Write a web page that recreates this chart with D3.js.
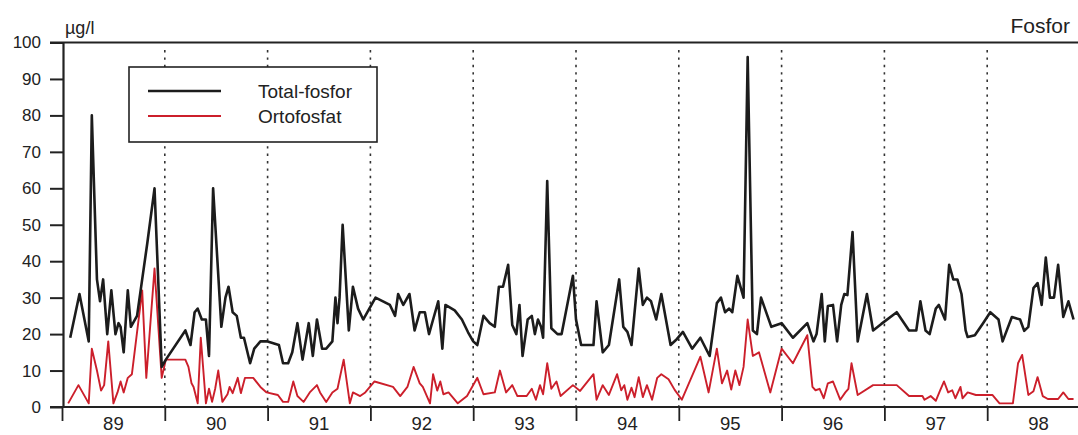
<!DOCTYPE html>
<html>
<head>
<meta charset="utf-8">
<script src="https://cdn.jsdelivr.net/npm/d3@7"></script>
<style>
  body { margin: 0; background: #fff; }
  text { font-family: "Liberation Sans", Arial, sans-serif; fill: #222; }
</style>
</head>
<body>
<script>
// sampling dates as decimal years, values in µg/l
const totalDates = [1989.08,1989.17,1989.26,1989.29,1989.34,1989.37,1989.40,1989.44,1989.48,1989.52,1989.55,1989.57,1989.60,1989.64,1989.67,1989.73,1989.78,1989.83,1989.90,1989.97,
  1990.01,1990.20,1990.25,1990.29,1990.32,1990.36,1990.40,1990.43,1990.47,1990.55,1990.59,1990.62,1990.66,1990.70,1990.74,1990.77,1990.83,1990.87,1990.93,
  1991.00,1991.11,1991.15,1991.20,1991.24,1991.29,1991.34,1991.40,1991.44,1991.48,1991.53,1991.57,1991.63,1991.66,1991.68,1991.70,1991.73,1991.79,1991.83,1991.88,1991.93,1991.98,
  1992.05,1992.19,1992.24,1992.27,1992.32,1992.38,1992.43,1992.48,1992.53,1992.57,1992.61,1992.66,1992.70,1992.73,1992.82,1992.89,1992.95,
  1993.00,1993.04,1993.10,1993.16,1993.21,1993.25,1993.29,1993.34,1993.38,1993.42,1993.45,1993.48,1993.53,1993.57,1993.60,1993.63,1993.66,1993.68,1993.72,1993.76,1993.82,1993.86,1993.97,
  1994.00,1994.05,1994.17,1994.20,1994.26,1994.32,1994.42,1994.46,1994.50,1994.54,1994.61,1994.65,1994.69,1994.73,1994.78,1994.83,1994.92,1994.98,
  1995.04,1995.13,1995.21,1995.30,1995.37,1995.41,1995.45,1995.49,1995.52,1995.57,1995.63,1995.67,1995.72,1995.76,1995.80,1995.90,
  1996.00,1996.11,1996.25,1996.31,1996.34,1996.39,1996.42,1996.45,1996.50,1996.54,1996.58,1996.61,1996.64,1996.69,1996.74,1996.83,1996.89,1996.97,
  1997.12,1997.24,1997.31,1997.35,1997.40,1997.44,1997.50,1997.53,1997.59,1997.63,1997.67,1997.71,1997.75,1997.79,1997.81,1997.88,1997.96,
  1998.03,1998.11,1998.15,1998.24,1998.32,1998.36,1998.40,1998.45,1998.49,1998.53,1998.57,1998.61,1998.65,1998.69,1998.74,1998.79,1998.84];
const totalValues = [19,31,18,80,35,29,35,20,32,20,23,22,15,32,22,25,35,45,60,11,
  13,21,17,26,27,24,24,14,60,22,30,33,26,25,19,19,12,16,18,
  18,17,12,12,15,23,13,23,14,24,16,16,18,30,23,30,50,21,33,27,24,26.5,
  30,28,25,31,28,31,21,26,26,20,24,29,16,28,26.5,24,20.5,
  18,17,25,23,22,33,33,39,22.5,20,28,14,24,25,20,24,22,19,62,21.6,20,20,36,
  24,17,17,29,15,17,35,22,20.6,17,38,28,30,29,24,31,17,18.6,
  20.6,16,19,14,28.5,30,26,27,26,36,30,96,21,20,30,22,
  23,19,23,18,20,31,18,27.7,28,18,28,31,30.7,48,18,31,21,22.8,
  26,21,21,29,21,20,27,28,24,39,35,35,31,21,19.2,19.7,23,
  26,24,18,24.7,24,20.9,22,32.6,34,28,41,30,30,39,24.7,29,24];

const orthoDates = [1989.06,1989.16,1989.26,1989.29,1989.34,1989.38,1989.41,1989.45,1989.50,1989.54,1989.57,1989.60,1989.64,1989.68,1989.78,1989.82,1989.90,1989.97,
  1990.01,1990.20,1990.23,1990.26,1990.28,1990.32,1990.35,1990.40,1990.43,1990.46,1990.49,1990.52,1990.56,1990.61,1990.63,1990.66,1990.71,1990.74,1990.78,1990.86,1990.93,1990.99,
  1991.10,1991.15,1991.20,1991.25,1991.29,1991.35,1991.41,1991.48,1991.51,1991.57,1991.63,1991.68,1991.74,1991.80,1991.83,1991.90,1991.95,
  1992.04,1992.22,1992.29,1992.36,1992.42,1992.48,1992.51,1992.58,1992.61,1992.65,1992.68,1992.71,1992.76,1992.85,1992.94,
  1993.04,1993.10,1993.21,1993.26,1993.32,1993.38,1993.43,1993.52,1993.57,1993.61,1993.65,1993.68,1993.72,1993.76,1993.81,1993.85,1993.97,
  1994.04,1994.17,1994.20,1994.26,1994.32,1994.40,1994.44,1994.47,1994.50,1994.54,1994.57,1994.61,1994.65,1994.69,1994.74,1994.79,1994.83,1994.90,1994.96,
  1995.03,1995.21,1995.29,1995.37,1995.42,1995.47,1995.51,1995.55,1995.59,1995.63,1995.67,1995.72,1995.78,1995.89,
  1996.00,1996.11,1996.25,1996.30,1996.33,1996.37,1996.41,1996.45,1996.50,1996.57,1996.62,1996.65,1996.68,1996.74,1996.89,
  1997.12,1997.24,1997.37,1997.39,1997.45,1997.50,1997.54,1997.58,1997.62,1997.66,1997.69,1997.74,1997.76,1997.81,1997.89,
  1998.05,1998.12,1998.25,1998.30,1998.34,1998.40,1998.45,1998.49,1998.54,1998.59,1998.69,1998.74,1998.79,1998.84];
const orthoValues = [1,6,1,16,10,4.5,6,18,1,4,7,4,8,9,32,8,38,8,
  13,13,11,6.5,5.5,1,19,1,5,1.4,5,10,1.4,3.5,5.5,3.8,8,3.8,8,8,5.5,4,
  3.3,1.4,1.4,7,3,1.4,4,6,4,1.4,4,5,13,1,4,3,4,
  7,5.5,3,5.5,11,6.5,5.5,1,9,4.5,7,3.5,4,1,3,
  8,3.5,4,10,4,6,3,3,5,2,6,3.5,12,5,7,3,6,
  4.4,9,2,6,3.3,9,4.6,6,2,5.3,2.7,8.2,2.7,6,2,8,9,7.6,4.7,
  2,13.8,4,16,6.5,10,4.8,10,6,11,24,14,15,4,
  16,12,19.7,5.5,4.6,5,2.4,6.5,7,2,4,5,12,3.3,6,
  6,3,3,2,3,1.7,4.4,7,4,4.6,2.4,5.5,2.4,4,3.3,
  3.3,1,1,12,14.3,3.3,4.3,8.2,3,2.2,2.2,4,2.2,2.2];

const years = d3.range(1989, 1999);
const yearLabels = ["89","90","91","92","93","94","95","96","97","98"];
const yTicks = d3.range(0, 101, 10);

const width = 1078, height = 435;
const plotLeft = 63, plotRight = 1078, plotTop = 42.5, plotBottom = 407;

const svg = d3.select("body").append("svg")
  .attr("width", width)
  .attr("height", height);

const x = d3.scaleLinear().domain([1989, 1999]).range([plotLeft - 1, plotLeft - 1 + 1028]);
const y = d3.scaleLinear().domain([0, 100]).range([plotBottom, plotTop]);

// dotted year separators
svg.append("g")
  .selectAll("line")
  .data(years.slice(1))
  .join("line")
  .attr("x1", d => x(d)).attr("x2", d => x(d))
  .attr("y1", 50).attr("y2", plotBottom)
  .attr("stroke", "#333")
  .attr("stroke-width", 1.6)
  .attr("stroke-dasharray", "2.4,5");

// y axis
const yAxis = svg.append("g")
  .attr("transform", `translate(${plotLeft},0)`)
  .call(d3.axisLeft(y).tickValues(yTicks).tickSize(13).tickPadding(9).tickSizeOuter(0));
yAxis.select(".domain").attr("stroke", "#222").attr("stroke-width", 2.2);
yAxis.selectAll(".tick line").attr("stroke", "#222").attr("stroke-width", 2);
yAxis.selectAll(".tick text")
  .style("font-family", "'Liberation Sans', Arial, sans-serif")
  .style("font-size", "17px").attr("fill", "#222");

// x axis: ticks at year boundaries, labels centred in each year
const xAxis = svg.append("g")
  .attr("transform", `translate(0,${plotBottom})`)
  .call(d3.axisBottom(x).tickValues(years).tickSize(14).tickFormat("").tickSizeOuter(0));
xAxis.select(".domain").remove();
xAxis.selectAll(".tick line").attr("stroke", "#222").attr("stroke-width", 1.8);

svg.append("line")
  .attr("x1", 50).attr("x2", plotRight)
  .attr("y1", plotBottom).attr("y2", plotBottom)
  .attr("stroke", "#222").attr("stroke-width", 2.2);
svg.append("line")
  .attr("x1", 50).attr("x2", plotRight)
  .attr("y1", plotTop).attr("y2", plotTop)
  .attr("stroke", "#222").attr("stroke-width", 2.2);

svg.append("g")
  .selectAll("text")
  .data(years)
  .join("text")
  .attr("x", d => x(d + 0.5))
  .attr("y", 430)
  .attr("text-anchor", "middle")
  .style("font-size", "18.5px")
  .text((d, i) => yearLabels[i]);

// series
const line = d3.line().x(d => x(d[0])).y(d => y(d[1]));

svg.append("path")
  .datum(orthoDates.map((d, i) => [d, orthoValues[i]]))
  .attr("fill", "none")
  .attr("stroke", "#cc1f2b")
  .attr("stroke-width", 1.9)
  .attr("stroke-linejoin", "round")
  .attr("d", line);

svg.append("path")
  .datum(totalDates.map((d, i) => [d, totalValues[i]]))
  .attr("fill", "none")
  .attr("stroke", "#1c1c1c")
  .attr("stroke-width", 2.6)
  .attr("stroke-linejoin", "round")
  .attr("d", line);

// titles
svg.append("text").attr("x", 65).attr("y", 34).style("font-size", "18px").text("µg/l");
svg.append("text").attr("x", 1070).attr("y", 33).attr("text-anchor", "end")
  .style("font-size", "21px").text("Fosfor");

// legend
const lg = svg.append("g");
lg.append("rect")
  .attr("x", 129).attr("y", 67).attr("width", 248).attr("height", 75)
  .attr("fill", "#fff").attr("stroke", "#222").attr("stroke-width", 1.6);
const legendItems = [
  { name: "Total-fosfor", color: "#1c1c1c", w: 2.6 },
  { name: "Ortofosfat", color: "#cc1f2b", w: 1.9 }
];
legendItems.forEach((d, i) => {
  const ly = 91 + i * 25;
  lg.append("line")
    .attr("x1", 148).attr("x2", 221).attr("y1", ly).attr("y2", ly)
    .attr("stroke", d.color).attr("stroke-width", d.w);
  lg.append("text")
    .attr("x", 258).attr("y", ly + 7)
    .style("font-size", "19px")
    .text(d.name);
});
</script>
</body>
</html>
